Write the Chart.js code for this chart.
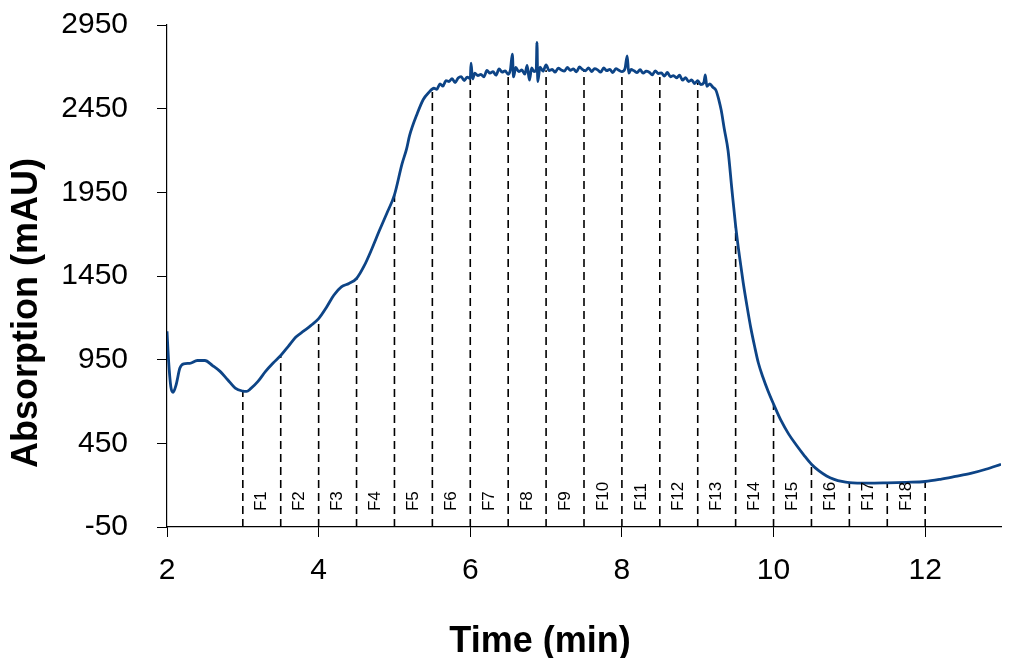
<!DOCTYPE html>
<html lang="en">
<head>
    <meta charset="UTF-8" />
    <title>Absorption vs Time</title>
    <script src="https://cdn.jsdelivr.net/npm/chart.js"></script>
    <style>
        html, body { margin: 0; padding: 0; background: #fff; }
        #wrap { width: 1022px; height: 658px; position: relative; }
    </style>
</head>
<body>
    <div id="wrap"><canvas id="chromChart"></canvas></div>

    <script>
        // chromatogram trace
        const timeMin = [
            2.00, 2.02, 2.05, 2.08, 2.12, 2.17, 2.22, 2.30, 2.40, 2.50, 2.60, 2.70, 2.80, 2.90, 3.00, 3.05, 3.10, 3.20, 3.30, 3.40,
            3.50, 3.60, 3.70, 3.80, 3.90, 4.00, 4.10, 4.20, 4.30, 4.40, 4.50, 4.60, 4.70, 4.80, 4.90, 5.00, 5.10, 5.16, 5.20, 5.30,
            5.38, 5.45, 5.52, 5.56, 5.60, 5.64, 5.68, 5.72, 5.76, 5.80, 5.84, 5.88, 5.92, 5.96, 6.00, 6.01, 6.03, 6.06, 6.10, 6.14,
            6.18, 6.22, 6.26, 6.30, 6.34, 6.38, 6.42, 6.46, 6.50, 6.53, 6.555, 6.57, 6.60, 6.64, 6.68, 6.72, 6.75, 6.78, 6.81, 6.84,
            6.87, 6.88, 6.89, 6.92, 6.96, 7.00, 7.04, 7.08, 7.12, 7.16, 7.20, 7.24, 7.28, 7.32, 7.36, 7.40, 7.44, 7.48, 7.52, 7.56,
            7.60, 7.64, 7.68, 7.72, 7.76, 7.80, 7.84, 7.88, 7.92, 7.96, 8.00, 8.04, 8.07, 8.09, 8.12, 8.16, 8.20, 8.24, 8.28, 8.32,
            8.36, 8.40, 8.44, 8.48, 8.52, 8.56, 8.60, 8.64, 8.68, 8.72, 8.76, 8.80, 8.84, 8.88, 8.92, 8.96, 9.00, 9.04, 9.08, 9.10,
            9.12, 9.16, 9.20, 9.24, 9.28, 9.31, 9.35, 9.40, 9.45, 9.50, 9.55, 9.60, 9.65, 9.70, 9.75, 9.80, 9.86, 9.93, 10.00, 10.10,
            10.20, 10.30, 10.40, 10.50, 10.60, 10.70, 10.80, 10.90, 11.00, 11.25, 11.50, 11.75, 12.00, 12.20, 12.40, 12.60, 12.80, 13.00
        ];
        const absorption = [
            1120, 950, 790, 755, 800, 900, 925, 928, 945, 945, 915, 880, 830, 780, 762, 760, 775, 820, 880, 930,
            975, 1030, 1085, 1120, 1155, 1195, 1260, 1335, 1385, 1405, 1435, 1510, 1610, 1720, 1825, 1935, 2120, 2210, 2290, 2420,
            2505, 2545, 2572, 2566, 2598, 2585, 2618, 2612, 2630, 2606, 2633, 2641, 2618, 2639, 2630, 2722, 2628, 2662, 2648, 2655,
            2640, 2678, 2662, 2671, 2650, 2688, 2668, 2676, 2655, 2684, 2776, 2640, 2696, 2672, 2681, 2656, 2708, 2620, 2694, 2671,
            2686, 2846, 2612, 2698, 2674, 2712, 2678, 2684, 2668, 2692, 2681, 2674, 2696, 2679, 2688, 2670, 2699, 2684, 2676, 2694,
            2672, 2689, 2682, 2668, 2693, 2677, 2685, 2666, 2689, 2680, 2671, 2688, 2766, 2662, 2684, 2676, 2666, 2683, 2662, 2674,
            2668, 2652, 2676, 2660, 2664, 2645, 2666, 2640, 2648, 2634, 2650, 2620, 2636, 2612, 2622, 2600, 2618, 2594, 2605, 2652,
            2584, 2598, 2578, 2560, 2500, 2440, 2330, 2200, 1970, 1750, 1570, 1410, 1270, 1140, 1030, 930, 845, 760, 685, 585,
            505, 440, 380, 325, 285, 255, 235, 222, 215, 212, 214, 217, 222, 235, 252, 270, 295, 325
        ];

        // fraction cut points and where each dashed line meets the trace
        const fractionEdges = [3, 3.5, 4, 4.5, 5, 5.5, 6, 6.5, 7, 7.5, 8, 8.5, 9, 9.5, 10, 10.5, 11, 11.5, 12];
        const fractionTops = [762, 975, 1195, 1435, 1935, 2550, 2640, 2655, 2680, 2685, 2675, 2655, 2605, 1750, 685, 325, 215, 214, 222];
        const fractionLabels = ['F1', 'F2', 'F3', 'F4', 'F5', 'F6', 'F7', 'F8', 'F9', 'F10', 'F11', 'F12', 'F13', 'F14', 'F15', 'F16', 'F17', 'F18'];
        const fractionLabelBase = 45;

        const xTicks = [2, 4, 6, 8, 10, 12];
        const xMax = 13;
        const yTicks = [-50, 450, 950, 1450, 1950, 2450, 2950];

        const fontFamily = '"Liberation Sans", Arial, Helvetica, sans-serif';

        const trace = timeMin.map((t, i) => ({ x: t, y: absorption[i] }));
        const cutLines = [];
        fractionEdges.forEach((e, i) => {
            cutLines.push({ x: e, y: yTicks[0] });
            cutLines.push({ x: e, y: fractionTops[i] });
            cutLines.push({ x: e, y: null });
        });

        const textPlugin = {
            id: 'textPlugin',
            afterDatasetsDraw(chart) {
                const { ctx, scales: { x, y } } = chart;
                ctx.save();
                ctx.fillStyle = '#000';
                ctx.font = '17px ' + fontFamily;
                ctx.textAlign = 'left';
                ctx.textBaseline = 'middle';
                fractionLabels.forEach((label, i) => {
                    const mid = (fractionEdges[i] + fractionEdges[i + 1]) / 2;
                    ctx.save();
                    ctx.translate(x.getPixelForValue(mid), y.getPixelForValue(fractionLabelBase));
                    ctx.rotate(-Math.PI / 2);
                    ctx.fillText(label, 0, 0);
                    ctx.restore();
                });

                // axis titles
                ctx.font = 'bold 36px ' + fontFamily;
                ctx.textAlign = 'center';
                ctx.textBaseline = 'alphabetic';
                ctx.fillText('Time (min)', 540, 652);
                ctx.save();
                ctx.translate(37, 313);
                ctx.rotate(-Math.PI / 2);
                ctx.fillText('Absorption (mAU)', 0, 0);
                ctx.restore();
                ctx.restore();
            }
        };

        const axisStyle = {
            grid: { display: true, drawOnChartArea: false, drawTicks: true, tickLength: 10, color: '#000', lineWidth: 1 },
            border: { display: true, color: '#000', width: 1.2 }
        };

        new Chart(document.getElementById('chromChart'), {
            type: 'line',
            data: {
                datasets: [
                    {
                        label: 'Absorption',
                        data: trace,
                        borderColor: '#0d4486',
                        borderWidth: 2.8,
                        pointRadius: 0,
                        cubicInterpolationMode: 'monotone',
                        order: 0
                    },
                    {
                        label: 'Fractions',
                        data: cutLines,
                        borderColor: '#000',
                        borderWidth: 1.6,
                        borderDash: [8, 5],
                        pointRadius: 0,
                        spanGaps: false,
                        order: 1
                    }
                ]
            },
            options: {
                responsive: true,
                maintainAspectRatio: false,
                animation: false,
                layout: { padding: { top: 25, right: 21, left: 0, bottom: 0 } },
                plugins: {
                    legend: { display: false },
                    tooltip: { enabled: false }
                },
                scales: {
                    x: {
                        type: 'linear',
                        min: xTicks[0],
                        max: xMax,
                        ...axisStyle,
                        afterBuildTicks: (s) => { s.ticks = xTicks.map(v => ({ value: v })); },
                        afterFit: (s) => { s.height = 131; },
                        ticks: { color: '#000', padding: 16, font: { family: fontFamily, size: 30 }, callback: (v) => String(v) }
                    },
                    y: {
                        type: 'linear',
                        min: yTicks[0],
                        max: yTicks[yTicks.length - 1],
                        ...axisStyle,
                        afterBuildTicks: (s) => { s.ticks = yTicks.map(v => ({ value: v })); },
                        afterFit: (s) => { s.width = 167; s.paddingTop = 0; s.paddingBottom = 0; },
                        ticks: { color: '#000', padding: 29, font: { family: fontFamily, size: 30 }, callback: (v) => String(v) }
                    }
                }
            },
            plugins: [textPlugin]
        });
    </script>
</body>
</html>
